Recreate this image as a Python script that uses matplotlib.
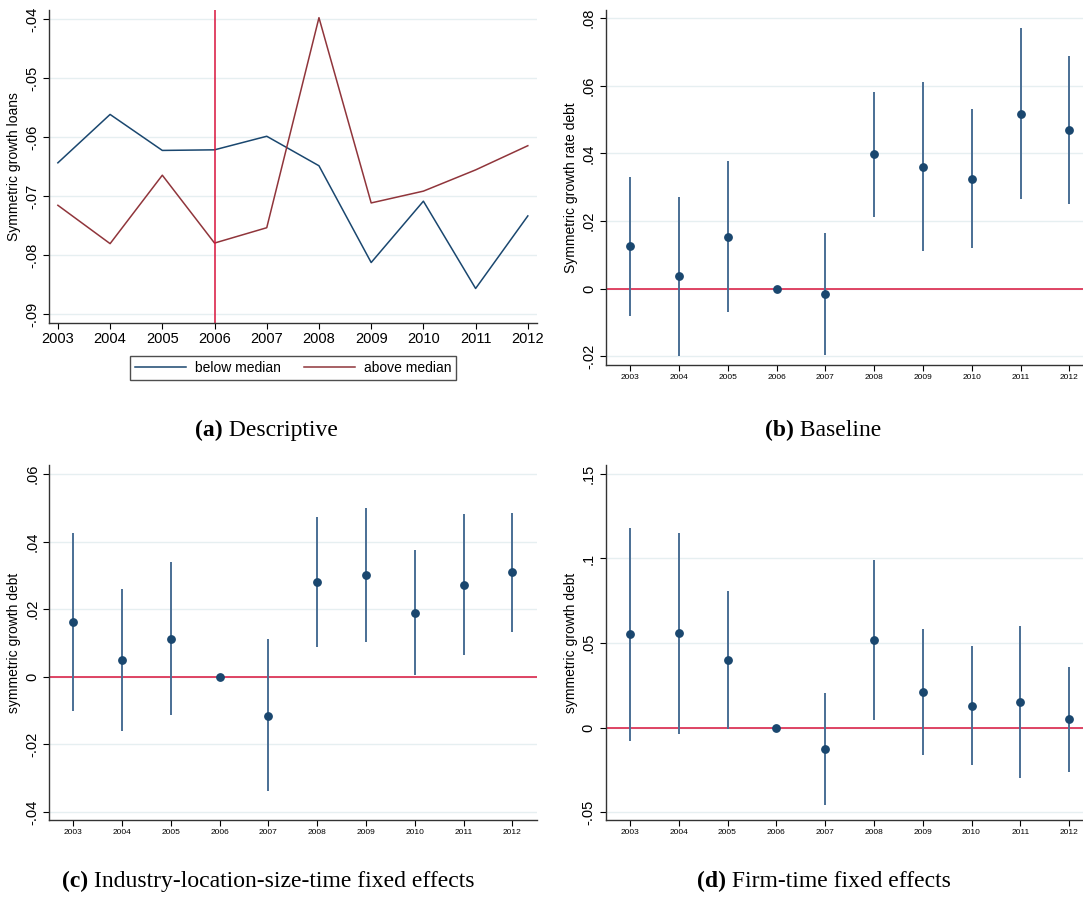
import matplotlib
matplotlib.use('Agg')
import matplotlib.pyplot as plt
from matplotlib.ticker import FuncFormatter

plt.rcParams['font.family'] = ['Liberation Sans', 'DejaVu Sans']

years = [2003, 2004, 2005, 2006, 2007, 2008, 2009, 2010, 2011, 2012]

# panel (a): descriptive means
below_median = [-0.0643, -0.0561, -0.0622, -0.0621, -0.0598, -0.0648, -0.0812, -0.0708, -0.0856, -0.0733]
above_median = [-0.0715, -0.0780, -0.0664, -0.0779, -0.0753, -0.0397, -0.0711, -0.0691, -0.0655, -0.0614]

# panel (b): baseline
b_coef = [0.0125, 0.0036, 0.0154, 0.0, -0.0017, 0.0398, 0.0360, 0.0324, 0.0517, 0.0470]
b_hi = [0.0330, 0.0270, 0.0377, 0.0, 0.0164, 0.0581, 0.0612, 0.0530, 0.0770, 0.0689]
b_lo = [-0.0080, -0.0198, -0.0069, 0.0, -0.0197, 0.0212, 0.0110, 0.0119, 0.0265, 0.0250]

# panel (c): industry-location-size-time fixed effects
c_coef = [0.0163, 0.0050, 0.0113, 0.0, -0.0115, 0.0280, 0.0301, 0.0190, 0.0273, 0.0309]
c_hi = [0.0427, 0.0261, 0.0339, 0.0, 0.0111, 0.0473, 0.0499, 0.0376, 0.0482, 0.0484]
c_lo = [-0.0101, -0.0161, -0.0114, 0.0, -0.0339, 0.0088, 0.0104, 0.0004, 0.0065, 0.0132]

# panel (d): firm-time fixed effects
d_coef = [0.0553, 0.0557, 0.0401, 0.0, -0.0126, 0.0515, 0.0211, 0.0130, 0.0150, 0.0051]
d_hi = [0.1183, 0.1149, 0.0809, 0.0, 0.0207, 0.0989, 0.0584, 0.0484, 0.0602, 0.0361]
d_lo = [-0.0079, -0.0036, -0.0010, 0.0, -0.0458, 0.0043, -0.0162, -0.0223, -0.0300, -0.0261]

NAVY = '#1a476f'
MAROON = '#90353b'
CI = '#4a6f95'
RED = '#d9143c'
GRID = '#e6eff1'


def stata_fmt(v, pos):
    if abs(v) < 1e-12:
        return '0'
    s = ('%g' % round(v, 4))
    return s.replace('0.', '.', 1)


def style_axes(ax, yticks, ylim, xtick_size):
    for side in ['top', 'right']:
        ax.spines[side].set_visible(False)
    for side in ['left', 'bottom']:
        ax.spines[side].set_color('#333333')
        ax.spines[side].set_linewidth(1.0)
    ax.set_yticks(yticks)
    ax.set_ylim(ylim)
    ax.yaxis.set_major_formatter(FuncFormatter(stata_fmt))
    ax.set_xticks(years)
    ax.set_xticklabels([str(y) for y in years])
    ax.tick_params(axis='x', labelsize=xtick_size, length=4, width=0.8, pad=2.5)
    ax.tick_params(axis='y', labelsize=10.5, length=4.5, width=0.8, pad=2.5)
    for lab in ax.get_yticklabels():
        lab.set_rotation(90)
        lab.set_va('center')
    ax.grid(axis='y', color=GRID, linewidth=1.0)
    ax.set_axisbelow(True)


def coef_panel(ax, coef, lo, hi, yticks, ylim, ylabel):
    ax.vlines(years, lo, hi, color=CI, linewidth=1.4, zorder=2)
    ax.axhline(0, color=RED, linewidth=1.1, zorder=1)
    ax.plot(years, coef, 'o', color=NAVY, markersize=5.3, zorder=3)
    ax.set_xlim(2002.5, 2012.5)
    style_axes(ax, yticks, ylim, 6)
    ax.set_ylabel(ylabel, fontsize=10, labelpad=3)


def caption(fig, x, y, tag, text):
    t = fig.text(x, y, tag, fontsize=17, fontweight='bold', family='Liberation Serif',
                 ha='left', va='center')
    fig.add_artist(plt.Annotation(' ' + text, xy=(1, 0), xycoords=t, va='bottom', ha='left',
                                  fontsize=17, family='Liberation Serif', annotation_clip=False))


fig = plt.figure(figsize=(10.83, 8.97), dpi=100)

W, H = 1083.0, 897.0


def box(l, t, r, b):
    return [l / W, 1 - b / H, (r - l) / W, (b - t) / H]


# (a)
ax_a = fig.add_axes(box(49, 10, 536.7, 323.3))
ax_a.plot(years, below_median, color=NAVY, linewidth=1.1, label='below median')
ax_a.plot(years, above_median, color=MAROON, linewidth=1.1, label='above median')
ax_a.axvline(2006, color=RED, linewidth=1.1)
ax_a.set_xlim(2002.83, 2012.17)
style_axes(ax_a, [-0.09, -0.08, -0.07, -0.06, -0.05, -0.04], (-0.0915, -0.0384), 10.5)
ax_a.set_ylabel('Symmetric growth loans', fontsize=10, labelpad=3)
ax_a.legend(loc='center', bbox_to_anchor=(293 / W, 1 - 368 / H), bbox_transform=fig.transFigure,
            ncol=2, fontsize=10, frameon=True, fancybox=False, edgecolor='#222222',
            handlelength=3.7, columnspacing=1.7, borderpad=0.35, handletextpad=0.6)
ax_a.get_legend().get_frame().set_linewidth(1.0)

# (b)
ax_b = fig.add_axes(box(605.7, 10, 1093.7, 365))
coef_panel(ax_b, b_coef, b_lo, b_hi, [-0.02, 0, 0.02, 0.04, 0.06, 0.08], (-0.0226, 0.0824),
           'Symmetric growth rate debt')

# (c)
ax_c = fig.add_axes(box(49, 465, 536.7, 820))
coef_panel(ax_c, c_coef, c_lo, c_hi, [-0.04, -0.02, 0, 0.02, 0.04, 0.06], (-0.0424, 0.0627),
           'symmetric growth debt')

# (d)
ax_d = fig.add_axes(box(605.5, 465, 1093.5, 820))
coef_panel(ax_d, d_coef, d_lo, d_hi, [-0.05, 0, 0.05, 0.1, 0.15], (-0.0547, 0.1553),
           'symmetric growth debt')

caption(fig, 195 / W, 1 - 430 / H, '(a)', 'Descriptive')
caption(fig, 765 / W, 1 - 430 / H, '(b)', 'Baseline')
caption(fig, 62 / W, 1 - 881 / H, '(c)', 'Industry-location-size-time fixed effects')
caption(fig, 697 / W, 1 - 881 / H, '(d)', 'Firm-time fixed effects')

fig.savefig('out.png', dpi=100)
